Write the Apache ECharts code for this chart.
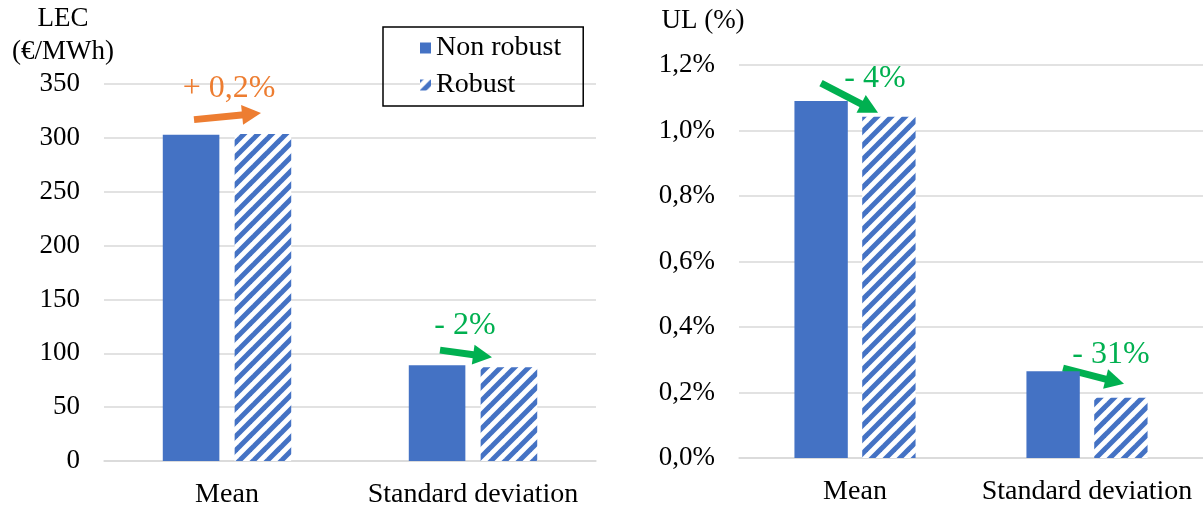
<!DOCTYPE html>
<html>
<head>
<meta charset="utf-8">
<script src="https://cdn.jsdelivr.net/npm/echarts@6/dist/echarts.min.js"></script>
<style>
    html, body { margin: 0; padding: 0; background: #fff; }
    #J_chart { width: 1203px; height: 510px; }
</style>
</head>
<body>
<div id="J_chart"></div>
<script>
    // data
    var categories = ['Mean', 'Standard deviation'];
    var seriesNames = ['Non robust', 'Robust'];
    var lecNonRobust = [303, 89];
    var lecRobust = [303.6, 87];
    var ulNonRobust = [1.09, 0.265];
    var ulRobust = [1.042, 0.184];
    var lecTicks = { min: 0, max: 350, interval: 50 };
    var ulTicks = { min: 0, max: 1.2, interval: 0.2 };

    // annotations: text, colour, grid, category
    var annoText = ['+ 0,2%', '- 2%', '- 4%', '- 31%'];
    var annoColor = ['#ED7D31', '#00B050', '#00B050', '#00B050'];
    var annoGrid = [0, 0, 1, 1];
    var annoCat = [0, 1, 0, 1];
    // offsets (px) from category centre / bar tops
    var arrowFrom = [[-33, -15], [-33, -15], [-34, -18], [-24, -3]];
    var arrowTo = [[34, -21], [19, -10], [23, -4], [37, -14]];
    var textPos = [[2, -45], [-8, -42], [20, -38], [24, -43]];

    var FONT = '"Liberation Serif", "Times New Roman", serif';
    var BLUE = '#4472C4';

    // 斜线填充
    function stripePattern() {
        var s = 14;
        var c = document.createElement('canvas');
        c.width = s; c.height = s;
        var ctx = c.getContext('2d');
        ctx.fillStyle = '#fff';
        ctx.fillRect(0, 0, s, s);
        ctx.strokeStyle = BLUE;
        ctx.lineWidth = 5;
        [[0, s, s, 0], [-s / 2, s / 2, s / 2, -s / 2], [s / 2, s * 1.5, s * 1.5, s / 2]].forEach(function (l) {
            ctx.beginPath();
            ctx.moveTo(l[0], l[1]);
            ctx.lineTo(l[2], l[3]);
            ctx.stroke();
        });
        return { image: c, repeat: 'repeat' };
    }
    var stripe = stripePattern();

    function pctLabel(v) {
        return v.toFixed(1).replace('.', ',') + '%';
    }

    var xAxisBase = {
        type: 'category',
        data: categories,
        axisTick: { show: false },
        axisLine: { lineStyle: { color: '#d9d9d9', width: 1.5 } },
        axisLabel: { color: '#000', fontFamily: FONT, fontSize: 28, margin: 20, interval: 0, hideOverlap: false }
    };
    var yAxisBase = {
        type: 'value',
        axisLine: { show: false },
        axisTick: { show: false },
        splitLine: { lineStyle: { color: '#d9d9d9', width: 1.5 } },
        axisLabel: { color: '#000', fontFamily: FONT, fontSize: 27, margin: 24 }
    };

    var dom = document.getElementById('J_chart');
    var myChart = echarts.init(dom);
    var option = {
        animation: false,
        textStyle: { fontFamily: FONT },
        legend: {
            orient: 'vertical',
            left: 383,
            top: 27,
            data: seriesNames,
            icon: 'rect',
            itemWidth: 11,
            itemHeight: 11,
            itemGap: 9,
            padding: [7, 22, 7, 37],
            borderColor: '#000',
            borderWidth: 1.5,
            textStyle: { color: '#000', fontFamily: FONT, fontSize: 28 }
        },
        grid: [
            { left: 104, top: 84, width: 492, height: 377 },
            { left: 739, top: 65, width: 468, height: 393 }
        ],
        xAxis: [
            Object.assign({ gridIndex: 0 }, xAxisBase),
            Object.assign({ gridIndex: 1 }, xAxisBase)
        ],
        yAxis: [
            Object.assign({ gridIndex: 0 }, yAxisBase, lecTicks),
            Object.assign({ gridIndex: 1 }, yAxisBase, ulTicks, {
                axisLabel: Object.assign({}, yAxisBase.axisLabel, { formatter: pctLabel })
            })
        ],
        series: [
            { name: seriesNames[0], type: 'bar', xAxisIndex: 0, yAxisIndex: 0, data: lecNonRobust,
              barWidth: '23%', barGap: '27%', itemStyle: { color: BLUE } },
            { name: seriesNames[1], type: 'bar', xAxisIndex: 0, yAxisIndex: 0, data: lecRobust,
              barWidth: '23%', barGap: '27%', itemStyle: { color: stripe } },
            { name: seriesNames[0], type: 'bar', xAxisIndex: 1, yAxisIndex: 1, data: ulNonRobust,
              barWidth: '23%', barGap: '27%', itemStyle: { color: BLUE } },
            { name: seriesNames[1], type: 'bar', xAxisIndex: 1, yAxisIndex: 1, data: ulRobust,
              barWidth: '23%', barGap: '27%', itemStyle: { color: stripe } }
        ]
    };
    myChart.setOption(option, true);

    // 轴标题
    var graphics = [
        { type: 'text', style: { text: 'LEC', x: 63, y: 19, fill: '#000',
          font: '27px ' + FONT, textAlign: 'center', textVerticalAlign: 'middle' } },
        { type: 'text', style: { text: '(€/MWh)', x: 63, y: 52, fill: '#000',
          font: '27px ' + FONT, textAlign: 'center', textVerticalAlign: 'middle' } },
        { type: 'text', style: { text: 'UL (%)', x: 703, y: 21, fill: '#000',
          font: '27px ' + FONT, textAlign: 'center', textVerticalAlign: 'middle' } }
    ];

    // 标注箭头
    var nonRobust = [lecNonRobust, lecNonRobust, ulNonRobust, ulNonRobust];
    var robust = [lecRobust, lecRobust, ulRobust, ulRobust];
    annoText.forEach(function (txt, i) {
        var g = { gridIndex: annoGrid[i] };
        var k = annoCat[i];
        var pNon = myChart.convertToPixel(g, [k, nonRobust[i][k]]);
        var pRob = myChart.convertToPixel(g, [k, robust[i][k]]);
        var cx = pNon[0];
        var x1 = cx + arrowFrom[i][0], y1 = pNon[1] + arrowFrom[i][1];
        var x2 = cx + arrowTo[i][0], y2 = pRob[1] + arrowTo[i][1];
        var dx = x2 - x1, dy = y2 - y1;
        var len = Math.sqrt(dx * dx + dy * dy);
        var ux = dx / len, uy = dy / len;
        var head = 19, half = 10;
        var bx = x2 - ux * head, by = y2 - uy * head;
        graphics.push({
            type: 'line',
            shape: { x1: x1, y1: y1, x2: bx + ux * 2, y2: by + uy * 2 },
            style: { stroke: annoColor[i], lineWidth: 7 }
        });
        graphics.push({
            type: 'polygon',
            shape: { points: [[x2, y2], [bx - uy * half, by + ux * half], [bx + uy * half, by - ux * half]] },
            style: { fill: annoColor[i] }
        });
        graphics.push({
            type: 'text',
            style: {
                text: txt, x: cx + textPos[i][0], y: pRob[1] + textPos[i][1],
                fill: annoColor[i], font: '32px ' + FONT,
                textAlign: 'center', textVerticalAlign: 'middle'
            }
        });
    });
    myChart.setOption({ graphic: graphics });
</script>
</body>
</html>
